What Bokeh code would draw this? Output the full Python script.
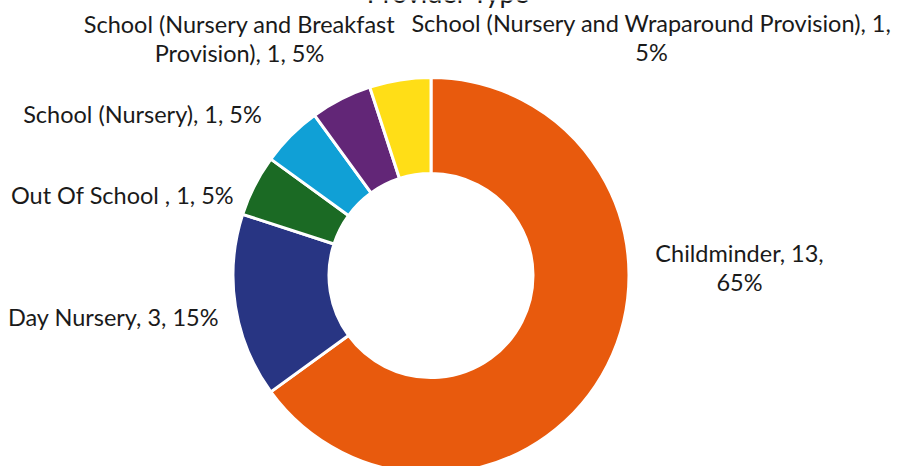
from bokeh.plotting import figure
from bokeh.models import Range1d, ColumnDataSource
from bokeh.core.properties import value
from bokeh.embed import file_html
from bokeh.resources import INLINE
import math

# ---- data ----
categories = [
    "Childminder",
    "Day Nursery",
    "Out Of School ",
    "School (Nursery)",
    "School (Nursery and Breakfast Provision)",
    "School (Nursery and Wraparound Provision)",
]
counts = [13, 3, 1, 1, 1, 1]
percents = [65, 15, 5, 5, 5, 5]
colors = ["#E85A0D", "#283583", "#1B6A24", "#10A0D6", "#622677", "#FFDE17"]
label_texts = [
    "Childminder, 13,\n65%",
    "Day Nursery, 3, 15%",
    "Out Of School , 1, 5%",
    "School (Nursery), 1, 5%",
    "School (Nursery and Breakfast\nProvision), 1, 5%",
    "School (Nursery and Wraparound Provision), 1,\n5%",
]
title_text = "Provider Type"

# ---- layout (screen pixels, y measured from top) ----
W, H = 897, 466
CX, CY = 430.5, 275
R_OUT, R_IN = 198, 102
label_pos = [(739, 267), (113, 316), (122, 194), (142, 113), (239, 38), (651, 37)]
FONT = "Lato"

total = sum(counts)
starts, ends = [], []
acc = 0.0
for c in counts:
    a0 = math.pi / 2 - 2 * math.pi * acc / total
    acc += c
    a1 = math.pi / 2 - 2 * math.pi * acc / total
    starts.append(a0)
    ends.append(a1)

p = figure(width=W, height=H, output_backend="svg", toolbar_location=None,
           x_range=Range1d(0, W), y_range=Range1d(0, H), min_border=0,
           styles={"position": "absolute", "left": "0px", "top": "0px"})
p.axis.visible = False
p.grid.visible = False
p.outline_line_color = None
p.background_fill_color = "white"
p.border_fill_color = "white"

src = ColumnDataSource(dict(start=starts, end=ends, color=colors, cat=categories, n=counts))
p.annular_wedge(x=CX, y=H - CY, inner_radius=R_IN, outer_radius=R_OUT,
                start_angle="start", end_angle="end", direction="clock",
                fill_color="color", line_color="white", line_width=3, source=src)

lsrc = ColumnDataSource(dict(x=[q[0] for q in label_pos], y=[H - q[1] for q in label_pos],
                             text=label_texts))
p.text(x="x", y="y", text="text", source=lsrc, text_align="center", text_baseline="middle",
       text_font=value(FONT), text_font_size="23.5px", text_color="#1a1a1a",
       text_line_height=1.01)

p.text(x=[448], y=[H + 8], text=[title_text], text_align="center", text_baseline="alphabetic",
       text_font=value(FONT), text_font_size="27px", text_color="#1a1a1a")

open("out.html", "w").write(file_html(p, INLINE))
